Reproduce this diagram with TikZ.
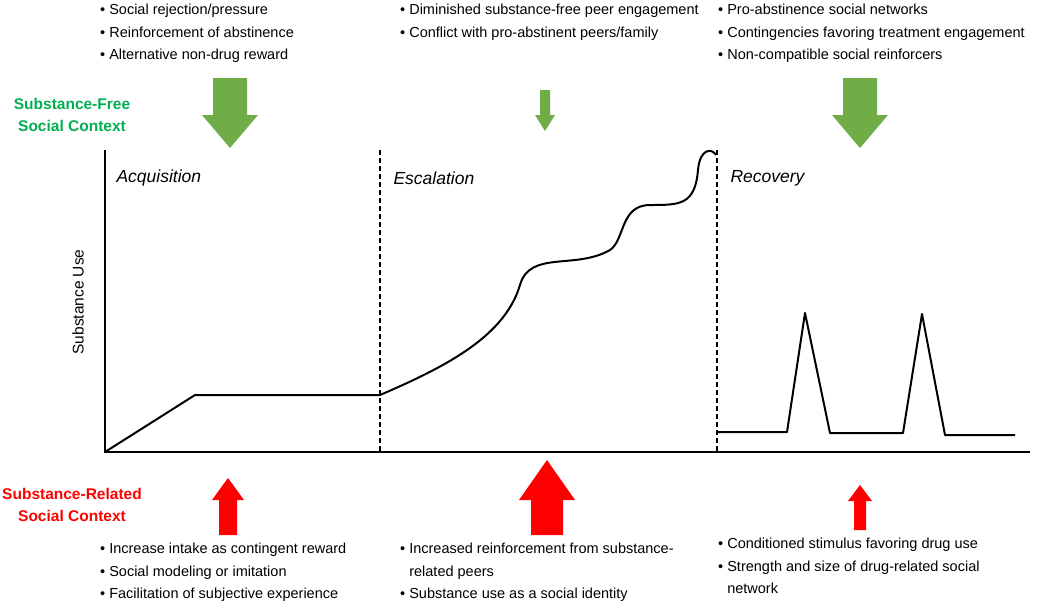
\documentclass[tikz,border=0pt]{standalone}
\usepackage{fontspec}
\setmainfont{Liberation Sans}
\definecolor{ctxgreen}{RGB}{112,173,71}
\definecolor{labgreen}{RGB}{0,176,80}
\newcommand{\ctxarrow}[7]{% x, tip y, base y, head length (signed), half head, half shaft, colour
  \fill[#7] (#1,#2) -- (#1+#5,#2+#4) -- (#1+#6,#2+#4) -- (#1+#6,#3)
    -- (#1-#6,#3) -- (#1-#6,#2+#4) -- (#1-#5,#2+#4) -- cycle;}
\begin{document}
\begin{tikzpicture}[x=1pt,y=-1pt,
    axis/.style={line width=1.4pt},
    phase/.style={dash pattern=on 5pt off 3pt, line width=1.2pt},
    usecurve/.style={line width=2pt, line join=round},
    phasename/.style={font=\itshape\fontsize{17.5}{20}\selectfont, anchor=west},
    bullets/.style={font=\fontsize{14.5}{22.5}\selectfont, anchor=north west, align=left, inner sep=0pt},
    ctxlabel/.style={font=\bfseries\fontsize{15.5}{22}\selectfont, align=center}]
  \useasboundingbox (0,0) rectangle (1050,614);

  % axes and phases
  \coordinate (origin) at (105,452);
  \draw[axis] (105,150) -- (origin) -- (1030,452);
  \draw[phase] (380,150) -- (380,452);
  \draw[phase] (717,150) -- (717,452);
  \node[phasename] (acq) at (113,178) {Acquisition};
  \node[phasename] (esc) at (390,178) {Escalation};
  \node[phasename] (rec) at (727,178) {Recovery};
  \node[rotate=90, font=\fontsize{15.5}{18}\selectfont] (ylab) at (78,302) {Substance Use};

  % substance use curve
  \draw[usecurve] (origin) -- (195,395) -- (380,395)
    .. controls (450,365) and (505,335) .. (520,285)
    .. controls (530,250) and (575,270) .. (610,250)
    .. controls (625,240) and (620,205) .. (650,205)
    .. controls (680,205) and (695,205) .. (698,170)
    .. controls (700,148) and (712,148) .. (716,155);
  \draw[usecurve] (717,432) -- (787,432) -- (805,313) -- (830,433) -- (903,433)
    -- (922,314) -- (945,435) -- (1015,435);

  % social context arrows
  \ctxarrow{230}{148}{78}{-33}{28}{17}{ctxgreen}
  \ctxarrow{545}{131}{90}{-16}{10}{5}{ctxgreen}
  \ctxarrow{860}{148}{78}{-33}{28}{17}{ctxgreen}
  \ctxarrow{228}{478}{535}{22}{16}{9}{red}
  \ctxarrow{547}{460}{535}{40}{28}{16}{red}
  \ctxarrow{860}{485}{530}{16}{12}{6}{red}

  \node[ctxlabel, text=labgreen] (free) at (72,115) {Substance-Free\\Social Context};
  \node[ctxlabel, text=red] (related) at (72,505) {Substance-Related\\Social Context};

  % mechanisms
  \node[bullets] (top1) at (100,4) {\textbullet\ Social rejection/pressure\\
    \textbullet\ Reinforcement of abstinence\\\textbullet\ Alternative non-drug reward};
  \node[bullets] (top2) at (400,4) {\textbullet\ Diminished substance-free peer engagement\\
    \textbullet\ Conflict with pro-abstinent peers/family};
  \node[bullets] (top3) at (718,4) {\textbullet\ Pro-abstinence social networks\\
    \textbullet\ Contingencies favoring treatment engagement\\\textbullet\ Non-compatible social reinforcers};
  \node[bullets] (bot1) at (100,543) {\textbullet\ Increase intake as contingent reward\\
    \textbullet\ Social modeling or imitation\\\textbullet\ Facilitation of subjective experience};
  \node[bullets] (bot2) at (400,543) {\textbullet\ Increased reinforcement from substance-\\
    \phantom{\textbullet\ }related peers\\\textbullet\ Substance use as a social identity};
  \node[bullets] (bot3) at (718,538) {\textbullet\ Conditioned stimulus favoring drug use\\
    \textbullet\ Strength and size of drug-related social\\\phantom{\textbullet\ }network};
\end{tikzpicture}
\end{document}
